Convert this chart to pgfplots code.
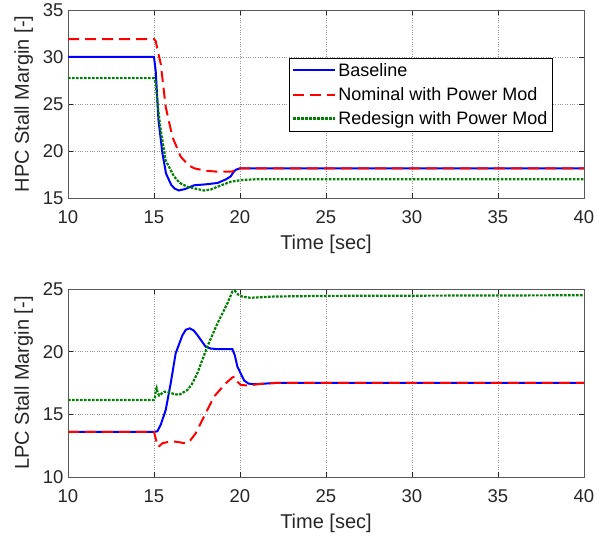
\documentclass[border=0pt]{standalone}
\usepackage{pgfplots}
\pgfplotsset{compat=1.18}
\usepackage{fontspec}
\setmainfont{Liberation Sans}
\definecolor{mgreen}{rgb}{0,0.5,0}
\definecolor{axgray}{gray}{0.15}
\pgfplotsset{
  myax/.style={
    scale only axis, width=516pt, height=188pt,
    xmin=10, xmax=40, xtick={10,15,...,40},
    grid=major, major grid style={dotted, gray!85, line width=0.5pt},
    tick align=inside, major tick length=5pt,
    tick style={axgray, line width=0.5pt},
    axis line style={gray!70!black, line width=0.7pt},
    ticklabel style={font=\fontsize{18.5}{21}\selectfont, text=black!85},
    label style={font=\fontsize{20}{23}\selectfont, text=black!85},
    xticklabel style={yshift=-9pt},
    yticklabel style={xshift=-1pt},
    xlabel style={yshift=-5pt},
    ylabel style={yshift=3pt},
    xlabel={Time [sec]},
    /pgf/number format/assume math mode=true,
    anchor=south west,
  },
  bl/.style={blue, line width=2pt},
  rd/.style={red, line width=2pt, dash pattern=on 11pt off 6pt},
  gr/.style={mgreen, line width=2.2pt, dash pattern=on 2.6pt off 1.4pt},
}
\begin{document}
\begin{tikzpicture}
\useasboundingbox (0,0) rectangle (597pt,541pt);
\begin{axis}[myax, at={(68pt,343pt)}, ymin=15, ymax=35, ytick={15,20,...,35},
  ylabel={HPC Stall Margin [-]},
  legend style={at={(0.428,0.745)}, anchor=north west, draw=black, line width=0.5pt,
    fill=white, font=\fontsize{18}{21}\selectfont, row sep=5.5pt, inner sep=3pt},
  legend cell align=left,
  legend image code/.code={\draw[#1] (0pt,0pt) -- (42pt,0pt);}]
\addplot[bl] coordinates {(10,30) (15,30) (15.1,28.5) (15.26,23.3) (15.49,19.75) (15.7,17.6) (16.0,16.4) (16.2,16.0) (16.45,15.8) (16.8,15.95) (17.33,16.35) (18.0,16.45) (18.7,16.6) (19.2,17.0) (19.46,17.3) (19.6,17.7) (19.75,18.0) (20.0,18.15) (40,18.15)};
\addlegendentry{Baseline}
\addplot[rd] coordinates {(10,31.9) (15.0,31.9) (15.1,31.7) (15.2,30.8) (15.39,29.3) (15.68,24.7) (16.07,21.5) (16.55,19.4) (17.0,18.5) (17.33,18.16) (18,17.9) (18.69,17.8) (19.46,17.8) (19.6,17.85) (19.75,18.15) (40,18.15)};
\addlegendentry{Nominal with Power Mod}
\addplot[gr] coordinates {(10,27.75) (15.0,27.75) (15.1,27.3) (15.2,25.1) (15.39,22.2) (15.68,19.0) (16.16,17.3) (16.5,16.6) (16.94,16.2) (17.4,16.0) (17.9,15.8) (18.3,15.9) (18.69,16.2) (19.46,16.73) (20.04,16.9) (21,17.0) (40,17.0)};
\addlegendentry{Redesign with Power Mod}
\end{axis}
\begin{axis}[myax, at={(68pt,64pt)}, ymin=10, ymax=25, ytick={10,15,...,25},
  ylabel={LPC Stall Margin [-]}]
\addplot[bl] coordinates {(10,13.6) (15.0,13.6) (15.2,13.65) (15.4,14.2) (15.68,15.34) (15.97,17.47) (16.26,19.87) (16.65,21.3) (16.85,21.75) (17.08,21.86) (17.3,21.7) (17.52,21.33) (18.0,20.4) (18.3,20.25) (18.69,20.2) (19.56,20.2) (19.7,19.7) (19.85,18.8) (20.24,17.7) (20.5,17.45) (20.82,17.4) (22,17.5) (40,17.5)};
\addplot[rd] coordinates {(10,13.6) (15.0,13.6) (15.15,12.8) (15.25,12.4) (15.5,12.7) (16.0,12.85) (16.36,12.8) (16.84,12.68) (17.1,12.9) (17.42,13.48) (17.9,14.8) (18.48,16.4) (19.17,17.47) (19.56,17.95) (19.7,18.0) (19.85,17.6) (20.04,17.34) (20.5,17.3) (21,17.4) (22,17.5) (40,17.5)};
\addplot[gr] coordinates {(10,16.15) (15.0,16.15) (15.05,16.3) (15.1,16.9) (15.15,17.1) (15.22,16.7) (15.3,16.5) (15.39,16.6) (15.6,16.8) (15.78,16.8) (16.1,16.65) (16.45,16.55) (16.94,16.94) (17.2,17.4) (17.52,18.27) (18.1,20.4) (18.69,22.26) (19.27,23.86) (19.56,24.8) (19.7,24.85) (19.9,24.55) (20.14,24.39) (20.6,24.3) (22,24.4) (25,24.45) (40,24.5)};
\end{axis}
\end{tikzpicture}
\end{document}
